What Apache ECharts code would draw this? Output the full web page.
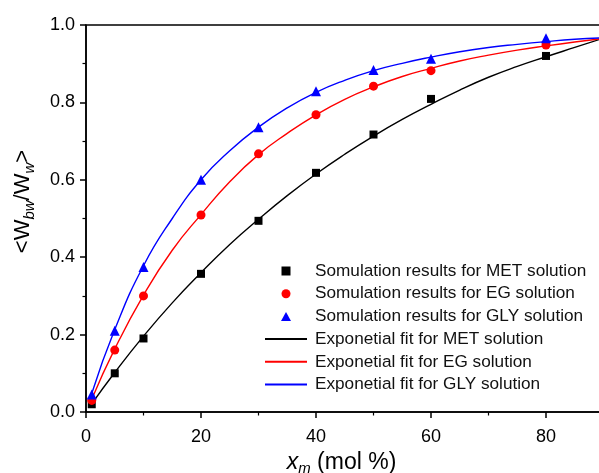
<!DOCTYPE html>
<html>
<head>
<meta charset="utf-8">
<script src="https://cdn.jsdelivr.net/npm/echarts@6/dist/echarts.min.js"></script>
<style>
  html, body { margin: 0; padding: 0; background: #ffffff; }
  #chart { width: 599px; height: 473px; }
</style>
</head>
<body>
<div id="chart"></div>
<script>
// Simulated <W_bw/W_w> against mole fraction x_m (mol %)
const simX = [1, 5, 10, 20, 30, 40, 50, 60, 80];
const simMET = [0.02, 0.10, 0.19, 0.357, 0.494, 0.618, 0.717, 0.809, 0.920];
const simEG  = [0.03, 0.16, 0.30, 0.509, 0.667, 0.768, 0.842, 0.882, 0.948];
const simGLY = [0.045, 0.21, 0.375, 0.60, 0.736, 0.829, 0.884, 0.913, 0.966];

// Exponential fit curves, sampled along x
const fitX = [1, 5, 10, 15, 20, 25, 30, 35, 40, 45, 50, 55, 60, 65, 70, 75, 80, 85, 90];
const fitMET = [0.021, 0.102, 0.196, 0.282, 0.360, 0.433, 0.498, 0.559, 0.615, 0.666, 0.713, 0.756, 0.795, 0.832, 0.865, 0.893, 0.918, 0.942, 0.966];
const fitEG  = [0.033, 0.163, 0.302, 0.418, 0.510, 0.595, 0.665, 0.720, 0.768, 0.808, 0.840, 0.867, 0.888, 0.907, 0.922, 0.935, 0.946, 0.956, 0.965];
const fitGLY = [0.048, 0.213, 0.378, 0.500, 0.600, 0.675, 0.736, 0.786, 0.826, 0.857, 0.882, 0.901, 0.917, 0.931, 0.942, 0.950, 0.957, 0.963, 0.967];

const yTicks = [0, 0.2, 0.4, 0.6, 0.8, 1.0];

const simNames = [
  'Somulation results for MET solution',
  'Somulation results for EG solution',
  'Somulation results for GLY solution'
];
const fitNames = [
  'Exponetial fit for MET solution',
  'Exponetial fit for EG solution',
  'Exponetial fit for GLY solution'
];

const FONT = '"Liberation Sans", Arial, Helvetica, sans-serif';
const colors = ['#000000', '#ff0000', '#0000ff'];
const symbols = ['rect', 'circle', 'triangle'];
const symbolSizes = [8, 9, 10];
// legend glyphs as paths so they keep a square aspect inside the wide icon box
const legendGlyphs = [
  'path://M0,0L1,0L1,1L0,1Z',
  'circle',
  'path://M0.5,0L1,0.9L0,0.9Z'
];

function pairs(xs, ys) { return xs.map((x, i) => [x, ys[i]]); }

const fitSeries = [fitMET, fitEG, fitGLY].map((ys, i) => ({
  name: fitNames[i],
  type: 'line',
  data: pairs(fitX, ys),
  smooth: true,
  symbol: 'none',
  lineStyle: { color: colors[i], width: 1.4 },
  itemStyle: { color: colors[i] },
  z: 2
}));

const simSeries = [simMET, simEG, simGLY].map((ys, i) => ({
  name: simNames[i],
  type: 'scatter',
  data: pairs(simX, ys),
  symbol: symbols[i],
  symbolSize: symbolSizes[i],
  itemStyle: { color: colors[i], opacity: 1 },
  z: 3
}));

// fit entries: plain line sample, the centre marker is hidden
const legendData = simNames.map((n, i) => ({ name: n, icon: legendGlyphs[i] }))
  .concat(fitNames.map(n => ({ name: n, itemStyle: { opacity: 0 } })));

const chart = echarts.init(document.getElementById('chart'), null, { renderer: 'canvas' });

chart.setOption({
  animation: false,
  backgroundColor: '#ffffff',
  textStyle: { fontFamily: FONT },
  grid: {
    left: 86,
    top: 25,
    bottom: 61,
    right: -62,
    outerBoundsMode: 'none',
    containLabel: false,
    show: true,
    borderColor: '#000000',
    borderWidth: 1.5,
    backgroundColor: 'transparent'
  },
  legend: {
    orient: 'vertical',
    left: 264,
    top: 262.5,
    padding: 0,
    itemWidth: 42,
    itemHeight: 9,
    itemGap: 5.7,
    symbolKeepAspect: true,
    data: legendData,
    textStyle: { fontFamily: FONT, fontSize: 17.2, color: '#111111', padding: [0, 0, 0, 3] }
  },
  xAxis: {
    type: 'value',
    min: 0,
    max: 100,
    interval: 20,
    name: '{i|x}{s|m}{t| (mol %)}',
    nameLocation: 'middle',
    nameGap: 36,
    nameTextStyle: {
      padding: [0, 64, 0, 0],
      rich: {
        i: { fontFamily: FONT, fontSize: 23, fontStyle: 'italic', color: '#000' },
        s: { fontFamily: FONT, fontSize: 15, fontStyle: 'italic', color: '#000', padding: [13, 0, 0, 0] },
        t: { fontFamily: FONT, fontSize: 23, color: '#000' }
      }
    },
    axisLine: { show: true, onZero: false, lineStyle: { color: '#000', width: 1.5 } },
    axisTick: { show: true, inside: false, length: 6, lineStyle: { color: '#000', width: 1.5 } },
    minorTick: { show: true, splitNumber: 2, length: 3.5, lineStyle: { color: '#000', width: 1.2 } },
    splitLine: { show: false },
    axisLabel: { margin: 16, fontFamily: FONT, fontSize: 18, color: '#000' }
  },
  yAxis: {
    type: 'value',
    min: yTicks[0],
    max: yTicks[yTicks.length - 1],
    interval: 0.2,
    name: '{t|<W}{s|bw}{t|/W}{s|w}{t|>}',
    nameLocation: 'middle',
    nameGap: 49,
    nameTextStyle: {
      padding: [0, 0, 0, 34],
      rich: {
        t: { fontFamily: FONT, fontSize: 22, color: '#000' },
        s: { fontFamily: FONT, fontSize: 15, fontStyle: 'italic', color: '#000', padding: [13, 0, 0, 0] }
      }
    },
    axisLine: { show: true, onZero: false, lineStyle: { color: '#000', width: 1.5 } },
    axisTick: { show: true, inside: false, length: 6, lineStyle: { color: '#000', width: 1.5 } },
    minorTick: { show: true, splitNumber: 2, length: 3.5, lineStyle: { color: '#000', width: 1.2 } },
    splitLine: { show: false },
    axisLabel: {
      margin: 11,
      fontFamily: FONT,
      fontSize: 18,
      color: '#000',
      formatter: v => v.toFixed(1)
    }
  },
  series: fitSeries.concat(simSeries)
});
</script>
</body>
</html>
